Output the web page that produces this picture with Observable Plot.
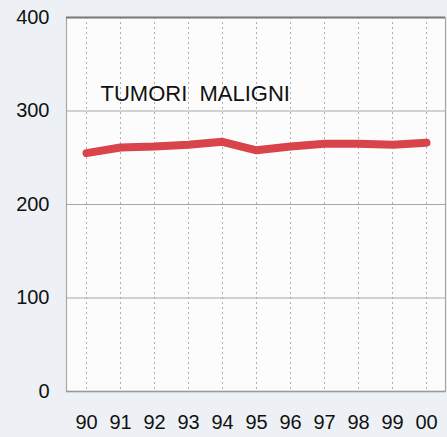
<!DOCTYPE html>
<html>
<head>
<meta charset="utf-8">
<script src="https://cdn.jsdelivr.net/npm/d3@7"></script>
<script src="https://cdn.jsdelivr.net/npm/@observablehq/plot@0.6"></script>
<style>
  html, body { margin: 0; padding: 0; background: #edf1f5; }
  #chart { width: 447px; height: 437px; }
  svg { display: block; }
</style>
</head>
<body>
<div id="chart"></div>
<script>
const years = ["90","91","92","93","94","95","96","97","98","99","00"];
const values = [255, 261, 262, 264, 267, 258, 262, 265, 265, 264, 266];
const yTicks = [0, 100, 200, 300, 400];
const gridY = [100, 200, 300];
const title = "TUMORI  MALIGNI";

const data = years.map((y, i) => ({year: y, value: values[i]}));

const chart = Plot.plot({
  width: 447,
  height: 437,
  marginLeft: 66,
  marginRight: 2,
  marginTop: 17,
  marginBottom: 46,
  style: {background: "transparent", fontFamily: "Liberation Sans, Arial, sans-serif", color: "#000"},
  x: {type: "point", domain: years, padding: 0.5, label: null},
  y: {domain: [0, 400], label: null},
  marks: [
    Plot.frame({fill: "#fcfcfc", stroke: "#a8a8a8", strokeWidth: 1.2}),
    Plot.ruleX(years, {x: d => d, stroke: "#b9a9b2", strokeWidth: 1, strokeDasharray: "2,3"}),
    Plot.ruleY(gridY, {stroke: "#a6a6a6", strokeWidth: 1.2}),
    Plot.ruleY([400], {stroke: "#7a7a7a", strokeWidth: 2}),
    Plot.ruleY([0], {stroke: "#9a9a9a", strokeWidth: 1.5}),
    Plot.axisY({ticks: yTicks, tickSize: 0, tickPadding: 17, fontSize: 20, fill: "#111", tickFormat: d => String(d)}),
    Plot.axisX({tickSize: 0, tickPadding: 23, fontSize: 20, fill: "#111"}),
    Plot.line(data, {x: "year", y: "value", stroke: "#d9434a", strokeWidth: 8, strokeLinecap: "round", strokeLinejoin: "round"}),
    Plot.text([title], {frameAnchor: "top-left", dx: 34, dy: 68, text: d => d, fontSize: 22, fill: "#111", textAnchor: "start"})
  ]
});
document.getElementById("chart").appendChild(chart);
</script>
</body>
</html>
